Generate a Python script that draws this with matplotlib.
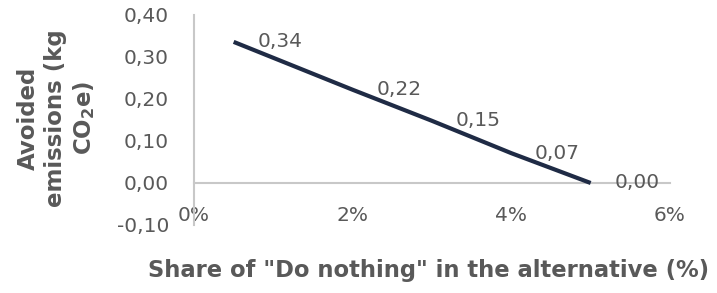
import matplotlib
matplotlib.use("Agg")
import matplotlib.pyplot as plt
from matplotlib.ticker import FuncFormatter

# Data
share_pct = [0.5, 2.0, 3.0, 4.0, 5.0]
avoided = [0.336, 0.222, 0.148, 0.071, 0.000]
x_ticks = [0, 2, 4, 6]
y_ticks = [-0.10, 0.00, 0.10, 0.20, 0.30, 0.40]

plt.rcParams['font.family'] = ['DejaVu Sans']
plt.rcParams['mathtext.fontset'] = 'dejavusans'

TXT = '#595959'
GRID = '#c8c8c8'
LINE = '#1f2b45'

def comma(v):
    return f"{v:.2f}".replace('.', ',')

fig = plt.figure(figsize=(7.17, 2.93), dpi=100)
ax = fig.add_axes([194/717, 1-225/293, (670-194)/717, (225-15)/293])

ax.plot(share_pct, avoided, color=LINE, lw=3.0, solid_capstyle='butt', zorder=3)
for x, y in zip(share_pct, avoided):
    ax.annotate(comma(y), (x, y), xytext=(17, 0),
                textcoords='offset points', ha='left', va='center',
                fontsize=14.5, color=TXT, zorder=4)

ax.set_xlim(0, 6)
ax.set_ylim(-0.10, 0.40)
ax.set_xticks(x_ticks)
ax.set_yticks(y_ticks)
ax.xaxis.set_major_formatter(FuncFormatter(lambda v, p: f"{v:.0f}%"))
ax.yaxis.set_major_formatter(FuncFormatter(lambda v, p: comma(v)))

for s in ['top', 'right']:
    ax.spines[s].set_visible(False)
ax.spines['bottom'].set_position(('data', 0))
for s in ['bottom', 'left']:
    ax.spines[s].set_color(GRID)
    ax.spines[s].set_linewidth(1.5)
ax.tick_params(axis='both', length=0, labelsize=14.5, labelcolor=TXT)
ax.tick_params(axis='x', pad=16.5)
ax.tick_params(axis='y', pad=18)

fig.text(57/717, 1-118/293, "Avoided\nemissions (kg\nCO$_\\mathbf{2}$e)", rotation=90,
         ha='center', va='center', fontsize=16.5, fontweight='bold', color=TXT,
         linespacing=1.2, multialignment='center')
fig.text(429/717, 1-271/293, 'Share of "Do nothing" in the alternative (%)',
         ha='center', va='center', fontsize=16.3, fontweight='bold', color=TXT)

fig.savefig("out.png", dpi=100)
